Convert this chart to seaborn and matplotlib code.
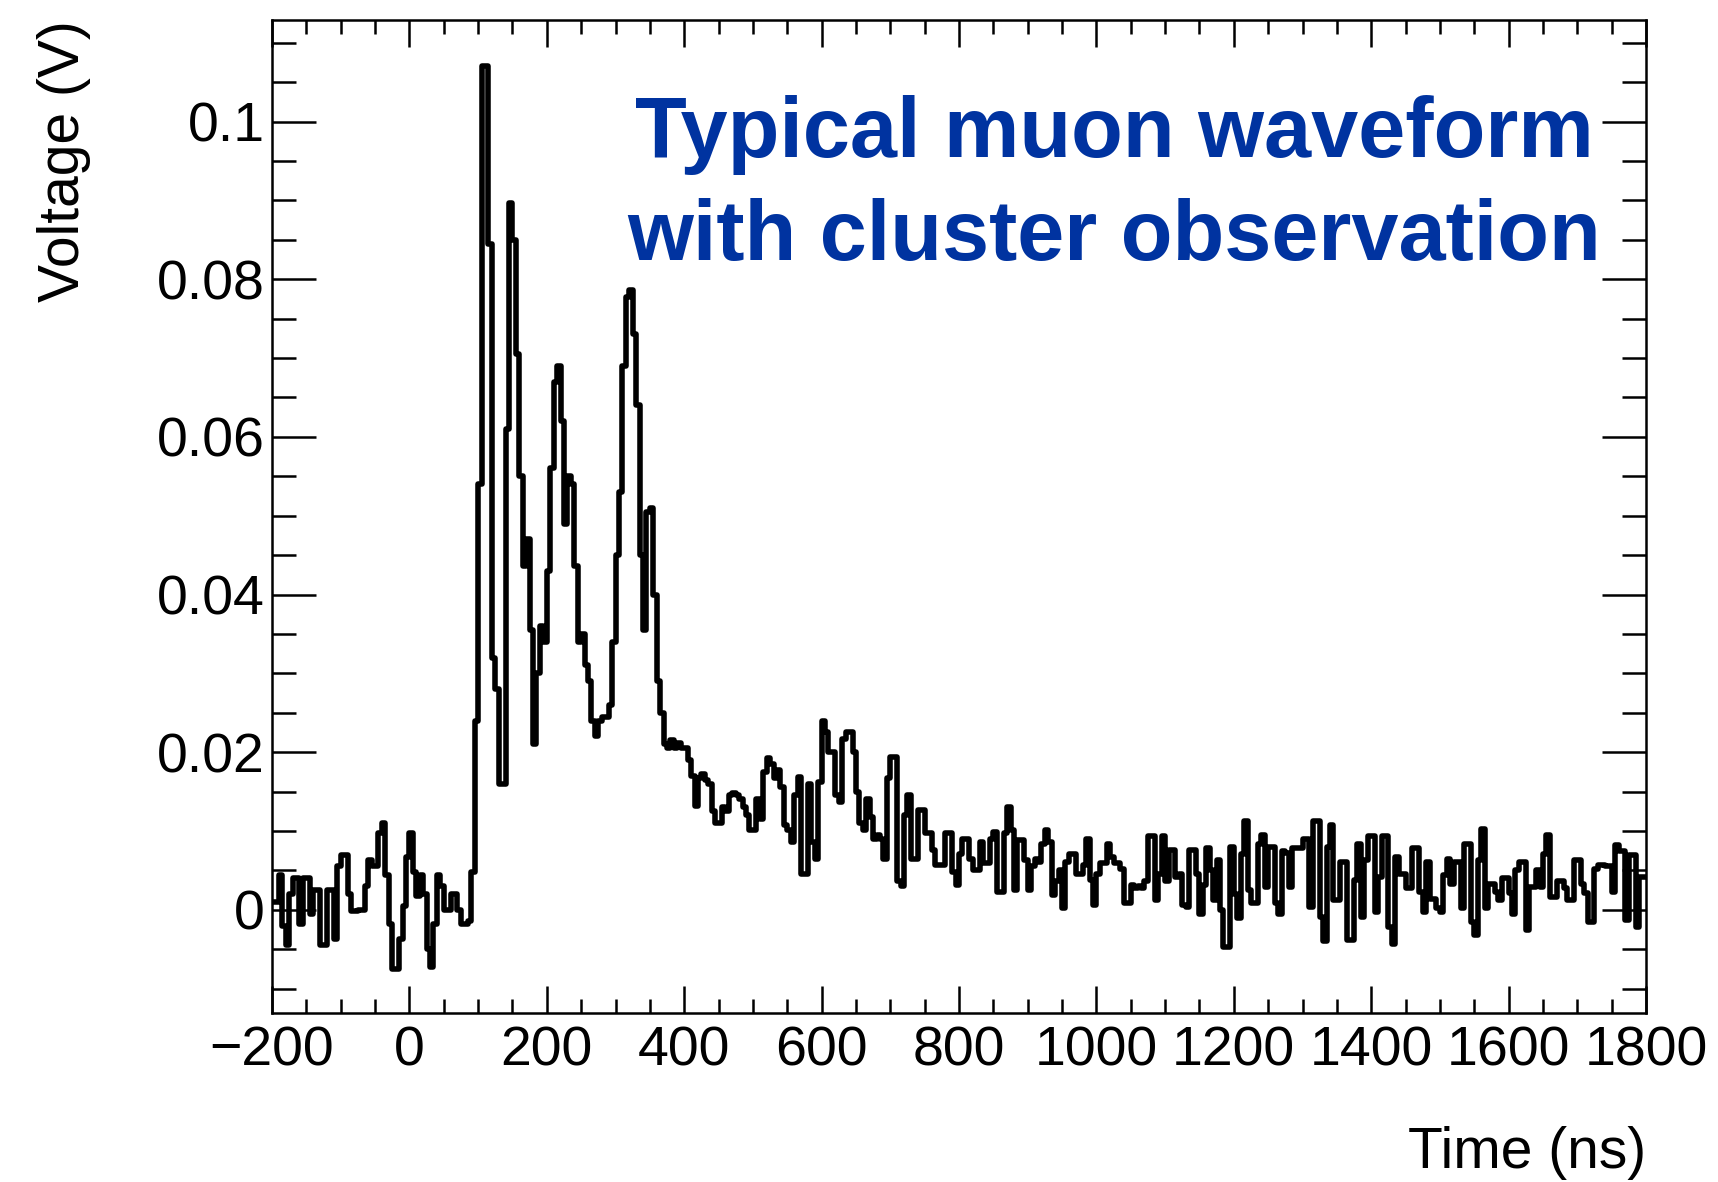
import numpy as np
import pandas as pd
import matplotlib
matplotlib.use("Agg")
import matplotlib.pyplot as plt
import seaborn as sns
from matplotlib.ticker import FixedLocator, MultipleLocator, FixedFormatter

# ---------------- data (voltage in V, 5 ns bins starting at -200 ns) ----------------
BIN_WIDTH_NS = 5
T_START_NS = -200
T_STOP_NS = 1800

v_m200 = [0.001, 0.001, 0.0044, -0.002, -0.0045, 0.002, 0.004, 0.004, -0.0018, 0.004,
          0.004, -0.0006, 0.0025, 0.0025, -0.0045, -0.0045, 0.0025, 0.0025, -0.0037, 0.0055]
v_m100 = [0.007, 0.007, 0.002, -0.0002, -0.0002, 0.0, 0.0, 0.003, 0.0063, 0.0055,
          0.0055, 0.0098, 0.011, 0.0044, -0.0018, -0.0075, -0.0075, -0.0037, 0.0005, 0.0067]
v_0 = [0.0098, 0.0048, 0.0017, 0.0044, 0.002, -0.005, -0.0072, -0.0018, 0.0044, 0.003,
       0.0, 0.0, 0.002, 0.002, 0.0, -0.0018, -0.0018, -0.0014, 0.0048, 0.024]
v_100 = [0.054, 0.107, 0.107, 0.0845, 0.032, 0.028, 0.016, 0.016, 0.061, 0.0897,
         0.085, 0.0705, 0.055, 0.0436, 0.047, 0.0355, 0.021, 0.030, 0.036, 0.034]
v_200 = [0.043, 0.056, 0.067, 0.069, 0.062, 0.049, 0.055, 0.054, 0.0436, 0.034,
         0.035, 0.031, 0.029, 0.024, 0.022, 0.024, 0.0244, 0.0244, 0.026, 0.034]
v_300 = [0.045, 0.053, 0.069, 0.0778, 0.0786, 0.073, 0.064, 0.045, 0.0355, 0.0505,
         0.051, 0.040, 0.029, 0.025, 0.021, 0.0205, 0.0215, 0.0205, 0.0212, 0.0205]
v_400 = [0.0205, 0.019, 0.017, 0.0132, 0.0167, 0.0172, 0.0165, 0.016, 0.0125, 0.011,
         0.011, 0.013, 0.0125, 0.0145, 0.0148, 0.0145, 0.014, 0.013, 0.012, 0.0101]
v_500 = [0.0101, 0.014, 0.0115, 0.0175, 0.0192, 0.0185, 0.0167, 0.0177, 0.0156, 0.0107,
         0.0101, 0.0086, 0.0146, 0.0169, 0.0046, 0.0046, 0.016, 0.0086, 0.0065, 0.0162]
v_600 = [0.0239, 0.0226, 0.020, 0.020, 0.0146, 0.0137, 0.0217, 0.0226, 0.0226, 0.020,
         0.015, 0.011, 0.0101, 0.014, 0.0118, 0.009, 0.0095, 0.009, 0.0065, 0.0167]
v_700 = [0.0194, 0.0194, 0.0036, 0.003, 0.012, 0.0146, 0.0065, 0.0065, 0.0126, 0.0126,
         0.0098, 0.0098, 0.0076, 0.0057, 0.0057, 0.0057, 0.0097, 0.0097, 0.0048, 0.0031]
v_800 = [0.0071, 0.009, 0.009, 0.0065, 0.005, 0.005, 0.0086, 0.0059, 0.0059, 0.009,
         0.0099, 0.0023, 0.0023, 0.0097, 0.0131, 0.0101, 0.0025, 0.0088, 0.0088, 0.0063]
v_900 = [0.0025, 0.0055, 0.0064, 0.006, 0.0084, 0.0101, 0.0086, 0.0019, 0.0036, 0.005,
         0.0002, 0.0061, 0.0071, 0.0071, 0.0046, 0.0046, 0.0057, 0.009, 0.0038, 0.0006]
v_1000 = [0.0046, 0.0059, 0.0059, 0.0084, 0.0067, 0.0059, 0.0059, 0.0052, 0.0008, 0.0008,
          0.0031, 0.0027, 0.003, 0.0027, 0.0036, 0.0093, 0.0093, 0.0012, 0.0046, 0.0093]
v_1100 = [0.0036, 0.0076, 0.0076, 0.0042, 0.0046, 0.0006, 0.0004, 0.0076, 0.0076, 0.0046,
          -0.0005, 0.0031, 0.0078, 0.005, 0.0012, 0.0063, 0.0, -0.0047, -0.0047, 0.008]
v_1200 = [0.002, -0.0011, 0.0071, 0.0112, 0.0025, 0.0008, 0.0008, 0.0084, 0.0095, 0.0029,
          0.008, 0.008, 0.0008, -0.0005, 0.0074, 0.0072, 0.0029, 0.0078, 0.0078, 0.0078]
v_1300 = [0.009, 0.009, 0.0004, 0.0112, 0.0112, -0.0009, -0.004, 0.008, 0.0107, 0.0012,
          0.0012, 0.006, 0.006, -0.0038, -0.0038, 0.0038, 0.0084, -0.0009, 0.0063, 0.0093]
v_1400 = [0.0093, -0.0003, 0.0042, 0.0093, 0.0093, -0.0022, -0.0043, 0.0067, 0.0046, 0.0046,
          0.0027, 0.0027, 0.0078, 0.0078, 0.0023, -0.0003, 0.0061, 0.0014, 0.0014, 0.0002]
v_1500 = [-0.0003, 0.0044, 0.0065, 0.0033, 0.0061, 0.0061, 0.0002, 0.0084, 0.0084, -0.0015,
          -0.0032, 0.0063, 0.0103, 0.0002, 0.0033, 0.0033, 0.0023, 0.0012, 0.004, 0.004]
v_1600 = [0.0021, -0.0005, 0.005, 0.0061, 0.0061, -0.0026, 0.0029, 0.0029, 0.005, 0.0029,
          0.0071, 0.0095, 0.0016, 0.0016, 0.0036, 0.0036, 0.0027, 0.0012, 0.0012, 0.0063]
v_1700 = [0.0063, 0.0033, 0.0021, -0.0015, -0.0015, 0.0052, 0.0057, 0.0057, 0.0055, 0.0055,
          0.0023, 0.0082, 0.0074, 0.0074, -0.0013, 0.0069, 0.0069, -0.0022, 0.0042, 0.0042]

x_ticks = [-200, 0, 200, 400, 600, 800, 1000, 1200, 1400, 1600, 1800]
x_tick_labels = ["\u2212200", "0", "200", "400", "600", "800", "1000", "1200", "1400", "1600", "1800"]
y_ticks = [0.0, 0.02, 0.04, 0.06, 0.08, 0.1]
y_tick_labels = ["0", "0.02", "0.04", "0.06", "0.08", "0.1"]

title_line1 = "Typical muon waveform"
title_line2 = "with cluster observation"
x_title = "Time (ns)"
y_title = "Voltage (V)"

voltage = np.concatenate([v_m200, v_m100, v_0, v_100, v_200, v_300, v_400, v_500, v_600,
                          v_700, v_800, v_900, v_1000, v_1100, v_1200, v_1300, v_1400,
                          v_1500, v_1600, v_1700])
time_ns = T_START_NS + BIN_WIDTH_NS * (np.arange(len(voltage)) + 0.5)
df = pd.DataFrame({"time": time_ns, "voltage": voltage})

# ---------------- style ----------------
sns.set_style("white")
plt.rcParams["font.family"] = ["Liberation Sans", "DejaVu Sans"]
plt.rcParams["axes.unicode_minus"] = True
plt.rcParams["text.color"] = "black"

W, H = 1718, 1182
fig = plt.figure(figsize=(W / 100, H / 100), dpi=100)
fig.patch.set_facecolor("white")
ax = fig.add_axes([272 / W, 1 - 1013 / H, (1646 - 272) / W, (1013 - 20) / H])

sns.histplot(data=df, x="time", weights="voltage", binwidth=BIN_WIDTH_NS,
             binrange=(T_START_NS, T_STOP_NS), element="step", fill=False,
             color="black", linewidth=4.0, ax=ax)

ax.set_xlim(T_START_NS, T_STOP_NS)
ax.set_ylim(-0.0131, 0.1129)
ax.set_xlabel("")
ax.set_ylabel("")

ax.xaxis.set_major_locator(FixedLocator(x_ticks))
ax.xaxis.set_major_formatter(FixedFormatter(x_tick_labels))
ax.xaxis.set_minor_locator(MultipleLocator(50))
ax.yaxis.set_major_locator(FixedLocator(y_ticks))
ax.yaxis.set_major_formatter(FixedFormatter(y_tick_labels))
ax.yaxis.set_minor_locator(MultipleLocator(0.005))

for s in ax.spines.values():
    s.set_visible(True)
    s.set_linewidth(1.8)
    s.set_color("black")

ax.tick_params(which="both", direction="in", top=True, right=True, bottom=True, left=True,
               width=1.8, color="black", labelcolor="black", labelsize=40)
ax.tick_params(axis="x", which="major", length=19.5, pad=9)
ax.tick_params(axis="x", which="minor", length=10)
ax.tick_params(axis="y", which="major", length=32, pad=5)
ax.tick_params(axis="y", which="minor", length=17)

# axis titles (ROOT style: aligned to the ends of the axes)
fig.text(1646 / W, 1 - 1168 / H, x_title, ha="right", va="baseline", fontsize=41, color="black")
fig.text(64 / W, 1 - 20 / H, y_title, rotation=90, ha="center", va="top", fontsize=41, color="black")

# annotation
blue = "#0033a0"
fig.text(1114 / W, 1 - 157 / H, title_line1, ha="center", va="baseline",
         fontsize=61, fontweight="bold", color=blue)
fig.text(1114 / W, 1 - 260 / H, title_line2, ha="center", va="baseline",
         fontsize=61, fontweight="bold", color=blue)

fig.savefig("out.png", dpi=100, facecolor="white")
